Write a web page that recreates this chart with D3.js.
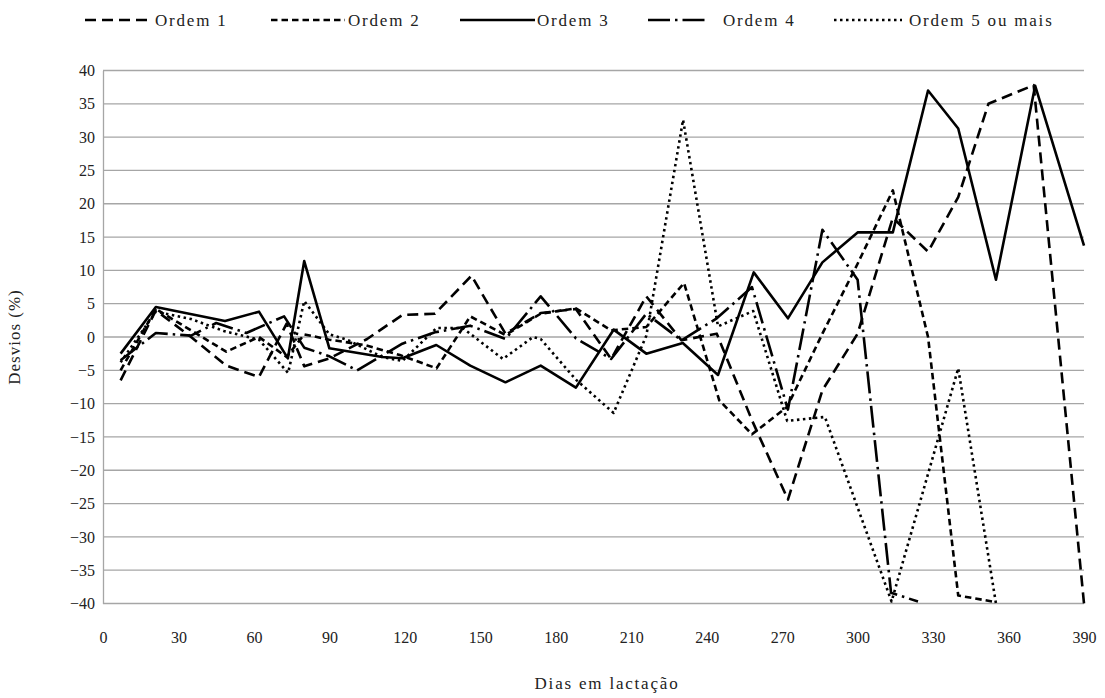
<!DOCTYPE html>
<html>
<head>
<meta charset="utf-8">
<script src="https://cdn.jsdelivr.net/npm/d3@7"></script>
<style>
  body { margin: 0; background: #fff; }
  svg text { font-family: "Liberation Serif", "Times New Roman", serif; fill: #222; }
</style>
</head>
<body>
<svg class="chart"></svg>
<script>
// dias em lactação + desvios (%) por ordem de parto
var dias1 = [7, 21, 35, 49, 62, 73, 80, 90, 105, 119, 132, 146.5, 160, 174, 188, 202, 216, 230, 244, 258, 272.3, 286, 300, 314, 328, 340, 352, 370, 390];
var ordem1 = [-6.5, 4, 0, -4.3, -6, 2, -4.4, -3.2, -0.3, 3.3, 3.5, 9.2, 0.5, 3.6, 4.2, -3.3, 6.1, -0.5, 0.5, -12.5, -24.4, -8, 0.5, 17.9, 12.8, 21, 35, 37.8, -40];

var dias2 = [7, 21, 35, 49, 62, 73, 80, 90, 104, 118, 132.6, 146, 160, 174, 188, 202, 216, 231, 245, 258, 272, 286, 300, 314, 328, 340, 355];
var ordem2 = [-5, 4.2, 1, -2.2, 0, -3, 0.4, -0.4, -1.2, -2.7, -4.7, 3.1, 0.3, 3.5, 4.3, 1, 1.5, 8.1, -9.5, -14.6, -10.5, 0.5, 11, 22, 0, -38.8, -39.8];

var dias3 = [7, 21, 48.5, 62, 73.5, 80, 90, 111, 119, 132.5, 146, 160, 174, 188, 203, 216, 230.5, 244.5, 258.7, 272.3, 286, 300, 314, 328, 340, 355, 370.6, 390];
var ordem3 = [-2.5, 4.5, 2.4, 3.8, -3.2, 11.4, -1.7, -3.0, -3.2, -1.2, -4.3, -6.8, -4.3, -7.6, 1.1, -2.5, -0.9, -5.7, 9.7, 2.8, 11.2, 15.7, 15.7, 37, 31.3, 8.6, 37.7, 13.7];

var dias4 = [7, 21, 35, 45, 57, 72, 80, 90, 101, 119, 132, 146, 160, 174, 188, 202, 216, 230, 244, 258, 272.3, 286, 300, 313.3, 324];
var ordem4 = [-3.5, 0.6, 0.2, 2.1, 0.6, 3.1, -1.6, -2.9, -5, -1, 0.7, 1.7, -0.3, 6.1, -0.2, -3.3, 3.5, -0.5, 2.8, 7.5, -10.9, 16.1, 8.6, -38.4, -39.7];

var dias5 = [7, 21, 35, 48, 62, 73.6, 80, 90, 97, 111, 119, 132.6, 143, 159, 171, 174, 188, 203, 216, 230.6, 244.5, 258.5, 272, 287, 313.5, 340, 355];
var ordem5 = [-3.8, 3.8, 2.7, 0.9, -0.4, -5.4, 5.4, 0.4, -0.4, -3, -3.6, 1.35, 1.35, -3.3, 0, -0.3, -6.4, -11.4, 0.2, 32.6, 1.6, 3.9, -12.6, -12, -39.7, -4.7, -40];

var xTicks = [0, 30, 60, 90, 120, 150, 180, 210, 240, 270, 300, 330, 360, 390];
var yTicks = [-40, -35, -30, -25, -20, -15, -10, -5, 0, 5, 10, 15, 20, 25, 30, 35, 40];

var series = [
  {name: "Ordem 1", dias: dias1, vals: ordem1, dash: "11,6"},
  {name: "Ordem 2", dias: dias2, vals: ordem2, dash: "6.5,4"},
  {name: "Ordem 3", dias: dias3, vals: ordem3, dash: null},
  {name: "Ordem 4", dias: dias4, vals: ordem4, dash: "22,5,2.5,5"},
  {name: "Ordem 5 ou mais", dias: dias5, vals: ordem5, dash: "2.5,3.5"}
];

var serif = "'Liberation Serif', 'Times New Roman', serif";

var margin = {top: 70.5, right: 21, bottom: 94.5, left: 103};
var chartWidth = 1105 - margin.left - margin.right;
var chartHeight = 698 - margin.top - margin.bottom;

var x = d3.scaleLinear().domain([0, 390]).range([0, chartWidth]);
var y = d3.scaleLinear().domain([-40, 40]).range([chartHeight, 0]);

var svg = d3.select('.chart').attr("width", 1105).attr("height", 698);
var chart = svg.append("g").attr("transform", "translate(" + margin.left + "," + margin.top + ")");

// grid lines
chart.selectAll(".grid")
  .data(yTicks)
  .enter().append("line")
  .attr("x1", 0).attr("x2", chartWidth)
  .attr("y1", function(d) { return y(d); })
  .attr("y2", function(d) { return y(d); })
  .attr("stroke", "#a6a6a6")
  .attr("stroke-width", 1.3);

// y axis
var yAxis = chart.append("g")
  .call(d3.axisLeft(y).tickValues(yTicks).tickSize(0).tickPadding(8));
yAxis.attr("font-family", serif).attr("font-size", 16);
yAxis.select(".domain").attr("stroke", "#a6a6a6").attr("stroke-width", 1.3);
yAxis.selectAll("text").attr("fill", "#222");

// x axis (labels only)
var xAxis = chart.append("g")
  .attr("transform", "translate(0," + chartHeight + ")")
  .call(d3.axisBottom(x).tickValues(xTicks).tickSize(0).tickPadding(28));
xAxis.attr("font-family", serif).attr("font-size", 16);
xAxis.select(".domain").remove();
xAxis.selectAll("text").attr("fill", "#222");

// lines
var line = d3.line()
  .x(function(d) { return x(d[0]); })
  .y(function(d) { return y(d[1]); });

series.forEach(function(s) {
  var pts = s.dias.map(function(d, i) { return [d, s.vals[i]]; });
  chart.append("path")
    .datum(pts)
    .attr("fill", "none")
    .attr("stroke", "#000")
    .attr("stroke-width", 2.6)
    .attr("stroke-linejoin", "round")
    .attr("stroke-dasharray", s.dash)
    .attr("d", line);
});

// text label for the y axis
svg.append("text")
  .attr("transform", "translate(20," + (margin.top + chartHeight / 2) + ") rotate(-90)")
  .style("text-anchor", "middle")
  .style("font-size", "17px")
  .style("letter-spacing", "1px")
  .text("Desvios (%)");

// text label for the x axis
svg.append("text")
  .attr("x", 607)
  .attr("y", 689)
  .style("text-anchor", "middle")
  .style("font-size", "17px")
  .style("letter-spacing", "1.8px")
  .text("Dias em lactação");

// legend
var legendX = [{l: 85, r: 147, t: 155}, {l: 271, r: 345, t: 348}, {l: 460, r: 535, t: 537}, {l: 648, r: 709, t: 723}, {l: 834, r: 902, t: 909}];
var legend = svg.append("g");
series.forEach(function(s, i) {
  legend.append("line")
    .attr("x1", legendX[i].l).attr("x2", legendX[i].r)
    .attr("y1", 20).attr("y2", 20)
    .attr("stroke", "#000").attr("stroke-width", 2.6)
    .attr("stroke-dasharray", s.dash);
  legend.append("text")
    .attr("x", legendX[i].t).attr("y", 25.5)
    .style("font-size", "17px")
    .style("letter-spacing", "1.8px")
    .text(s.name);
});
</script>
</body>
</html>
